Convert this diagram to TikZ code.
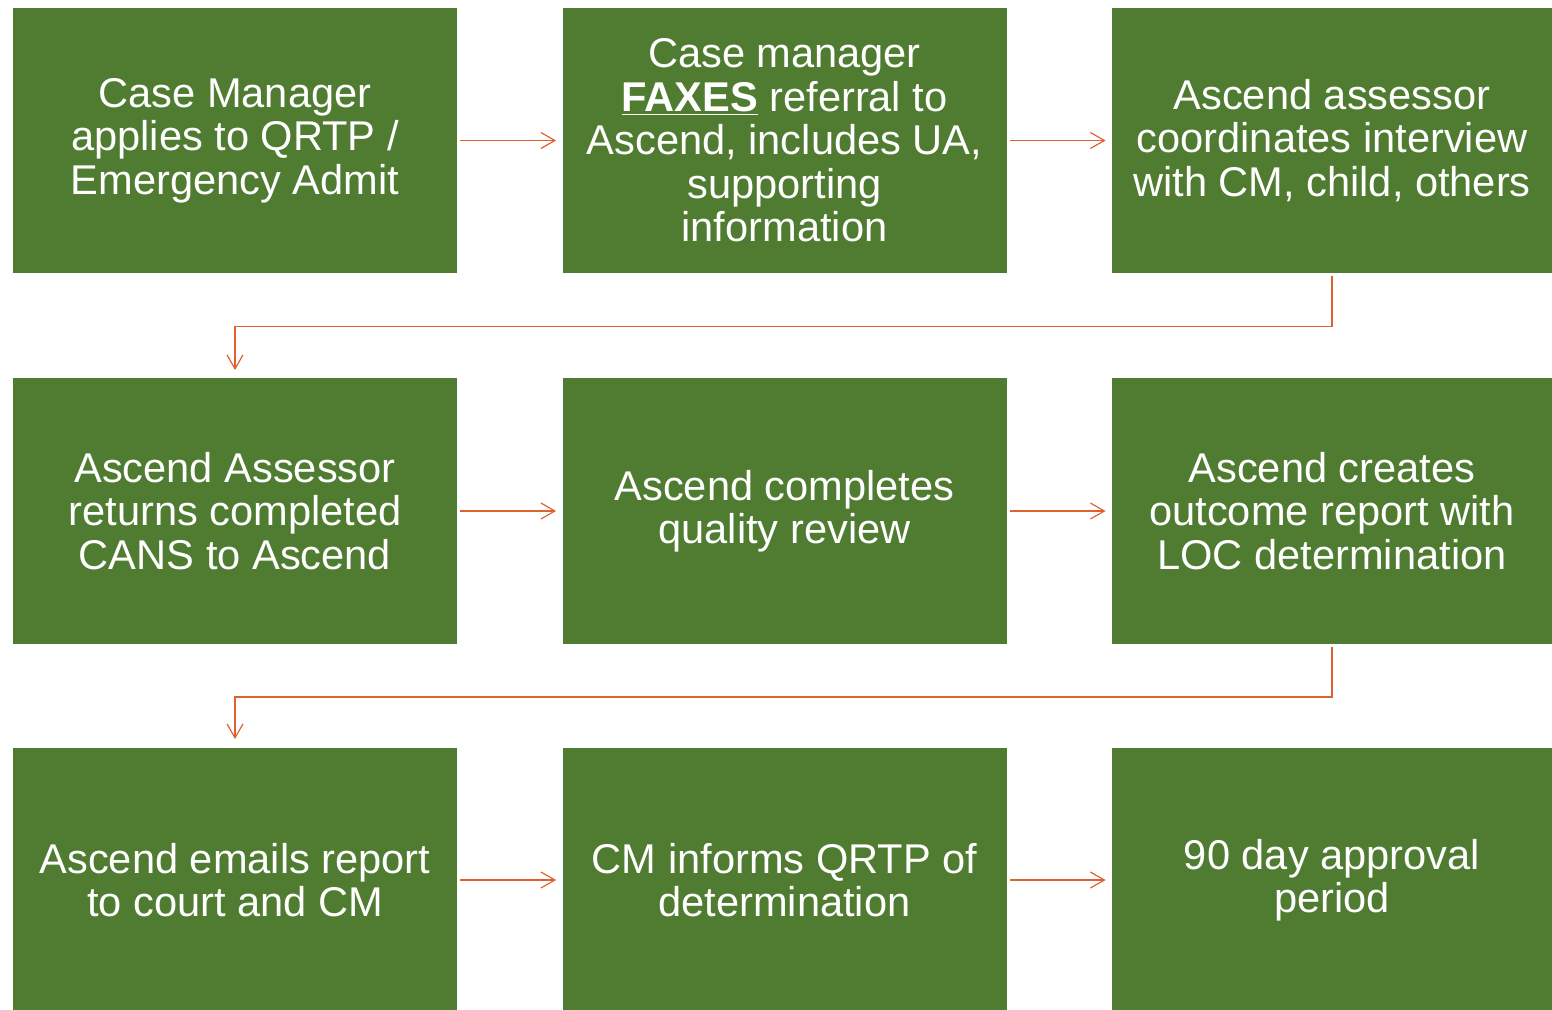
\documentclass[tikz,border=0pt]{standalone}
\usepackage{fontspec}
\setmainfont{Liberation Sans}
\usepackage{xcolor}
\usetikzlibrary{arrows.meta}
\definecolor{boxgreen}{RGB}{80,124,50}
\definecolor{linkorange}{RGB}{222,98,48}

\begin{document}
\begin{tikzpicture}[x=0.5pt,y=-0.5pt,
    stepbox/.style={fill=boxgreen,text=white,minimum width=222pt,minimum height=132.5pt,
      align=center,inner sep=0pt,font=\fontsize{20.8pt}{21.75pt}\selectfont},
    lastcol/.style={minimum width=220pt},
    link/.style={draw=linkorange,line width=0.6pt,-{Straight Barb[length=7pt,width=8pt]}}]
  \useasboundingbox (0,0) rectangle (1552,1010);
  \node[stepbox] (case) at (235,140.5) {Case Manager\\applies to QRTP /\\Emergency Admit};
  \node[stepbox] (fax) at (784.5,140.5) {Case manager\\\textbf{\underline{FAXES}} referral to\\Ascend, includes UA,\\supporting\\information};
  \node[stepbox,lastcol] (coord) at (1332,140.5) {Ascend assessor\\coordinates interview\\with CM, child, others};
  \node[stepbox] (cans) at (235,511) {Ascend Assessor\\returns completed\\CANS to Ascend};
  \node[stepbox] (review) at (784.5,511) {Ascend completes\\quality review};
  \node[stepbox,lastcol] (outcome) at (1332,511) {Ascend creates\\outcome report with\\LOC determination};
  \node[stepbox] (email) at (235,880) {Ascend emails report\\to court and CM};
  \node[stepbox] (inform) at (784.5,880) {CM informs QRTP of\\determination};
  \node[stepbox,lastcol] (approval) at (1332,880) {90 day approval\\period};
  \foreach \a/\b in {case/fax,fax/coord,cans/review,review/outcome,email/inform,inform/approval} {
    \draw[link,shorten <=1.5pt,shorten >=3pt] (\a) -- (\b);
  }
  \draw[link,shorten <=1.5pt,shorten >=4pt] (coord.south) -- ++(0,53) -| (cans.north);
  \draw[link,shorten <=1.5pt,shorten >=4pt] (outcome.south) -- ++(0,53) -| (email.north);
\end{tikzpicture}
\end{document}
